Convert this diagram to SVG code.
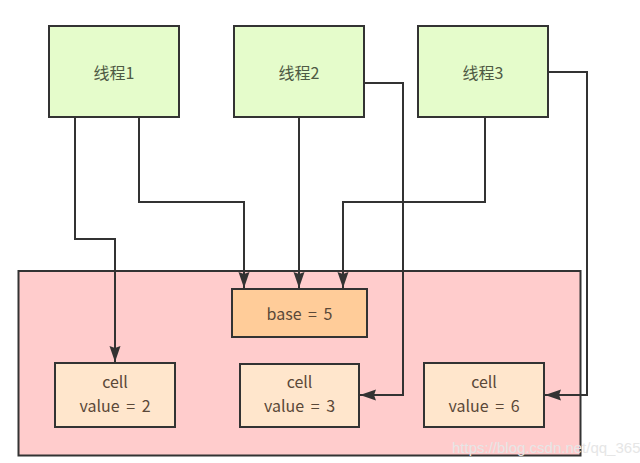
<svg xmlns="http://www.w3.org/2000/svg" width="640" height="463" viewBox="0 0 640 463">
<style>
.box{stroke:#333;stroke-width:2}
.thread{fill:#e5fccb}
.txt{font-family:"Noto Sans CJK SC","Liberation Sans",sans-serif;font-size:16px;text-anchor:middle;dominant-baseline:central}
.tt{fill:#4e5a44}
.ct{fill:#5a4838;word-spacing:3px}
.edge{fill:none;stroke:#333;stroke-width:2}
</style>
<defs>
<marker id="arr" viewBox="0 0 16 12" refX="16" refY="6" markerWidth="16" markerHeight="12" markerUnits="userSpaceOnUse" orient="auto">
<path d="M0,0.5 L16,6 L0,11.5 L2,6 Z" fill="#333"/>
</marker>
</defs>
<rect width="640" height="463" fill="#ffffff"/>
<g id="container">
<rect class="box" x="18.5" y="271" width="562" height="184.5" fill="#ffcccc"/>
</g>
<g id="thread1">
<rect class="box thread" x="49" y="26" width="130" height="91"/>
<text class="txt tt" x="114" y="72">线程1</text>
</g>
<g id="thread2">
<rect class="box thread" x="234" y="26" width="130" height="91"/>
<text class="txt tt" x="299" y="72">线程2</text>
</g>
<g id="thread3">
<rect class="box thread" x="418" y="26" width="130" height="91"/>
<text class="txt tt" x="483" y="72">线程3</text>
</g>
<g id="base">
<rect class="box" x="232" y="289" width="135" height="48" fill="#ffcc99"/>
<text class="txt ct" x="299.5" y="313">base = 5</text>
</g>
<g id="cell1">
<rect class="box" x="55" y="363" width="120" height="64" fill="#ffe6cc"/>
<text class="txt ct" x="115" y="381">cell</text>
<text class="txt ct" x="115" y="405">value = 2</text>
</g>
<g id="cell2">
<rect class="box" x="240" y="364" width="119" height="63" fill="#ffe6cc"/>
<text class="txt ct" x="299.5" y="381">cell</text>
<text class="txt ct" x="299.5" y="405">value = 3</text>
</g>
<g id="cell3">
<rect class="box" x="424" y="363" width="120" height="64" fill="#ffe6cc"/>
<text class="txt ct" x="484" y="381">cell</text>
<text class="txt ct" x="484" y="405">value = 6</text>
</g>
<g id="connectors">
<path class="edge" d="M75,117 V239 H115 V362" marker-end="url(#arr)"/>
<path class="edge" d="M139,117 V202 H244 V288" marker-end="url(#arr)"/>
<path class="edge" d="M299,117 V288" marker-end="url(#arr)"/>
<path class="edge" d="M485,117 V202 H343 V288" marker-end="url(#arr)"/>
<path class="edge" d="M364,83 H403 V395 H360" marker-end="url(#arr)"/>
<path class="edge" d="M548,72 H587 V395 H545" marker-end="url(#arr)"/>
</g>
<text x="452" y="453" font-family="Liberation Sans Narrow,Liberation Sans,sans-serif" font-size="15" fill="#e6e6e6">https://blog.csdn.net/qq_365</text>
</svg>
